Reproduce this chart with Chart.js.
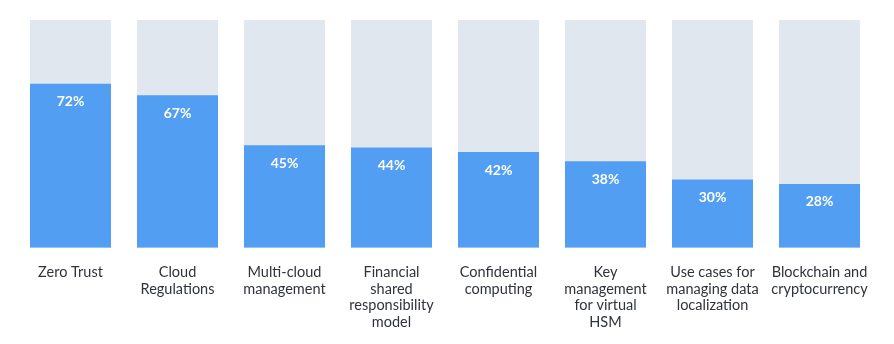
<!DOCTYPE html>
<html>
<head>
<meta charset="utf-8">
<script src="https://cdn.jsdelivr.net/npm/chart.js@4.4.0/dist/chart.umd.min.js"></script>
<style>
  html, body { margin: 0; padding: 0; background: #fff; }
  #wrap { width: 894px; height: 344px; }
</style>
</head>
<body>
<div id="wrap"><canvas id="chart"></canvas></div>
<script>
const categories = [
  ['Zero Trust'],
  ['Cloud', 'Regulations'],
  ['Multi-cloud', 'management'],
  ['Financial', 'shared', 'responsibility', 'model'],
  ['Confidential', 'computing'],
  ['Key', 'management', 'for virtual', 'HSM'],
  ['Use cases for', 'managing data', 'localization'],
  ['Blockchain and', 'cryptocurrency']
];
const values = [72, 67, 45, 44, 42, 38, 30, 28];
const fullScale = [100, 100, 100, 100, 100, 100, 100, 100];

// writes the percentage just inside the top of each blue bar
const valueLabels = {
  id: 'valueLabels',
  afterDatasetsDraw(chart) {
    const ctx = chart.ctx;
    const meta = chart.getDatasetMeta(0);
    ctx.save();
    ctx.fillStyle = '#ffffff';
    ctx.font = 'bold 14px Lato, "Noto Sans", sans-serif';
    ctx.textAlign = 'center';
    ctx.textBaseline = 'middle';
    meta.data.forEach((bar, i) => {
      ctx.fillText(values[i] + '%', bar.x, bar.y + 18);
    });
    ctx.restore();
  }
};

new Chart(document.getElementById('chart'), {
  type: 'bar',
  data: {
    labels: categories,
    datasets: [
      {
        data: values,
        backgroundColor: '#529ef2',
        order: 0,
        categoryPercentage: 0.757,
        barPercentage: 1
      },
      {
        data: fullScale,
        backgroundColor: '#e1e7ee',
        order: 1,
        categoryPercentage: 0.757,
        barPercentage: 1
      }
    ]
  },
  options: {
    responsive: true,
    maintainAspectRatio: false,
    animation: false,
    datasets: { bar: { grouped: false } },
    layout: { padding: { left: 17, right: 21, top: 20, bottom: 5 } },
    plugins: {
      legend: { display: false },
      tooltip: { enabled: false }
    },
    scales: {
      x: {
        grid: { display: false },
        border: { display: false },
        ticks: {
          color: '#2f333a',
          font: { family: 'Lato, "Noto Sans", sans-serif', size: 14.5, lineHeight: 1.16 },
          padding: 8,
          maxRotation: 0,
          autoSkip: false
        }
      },
      y: {
        display: false,
        min: 0,
        max: 100
      }
    }
  },
  plugins: [valueLabels]
});
</script>
</body>
</html>
